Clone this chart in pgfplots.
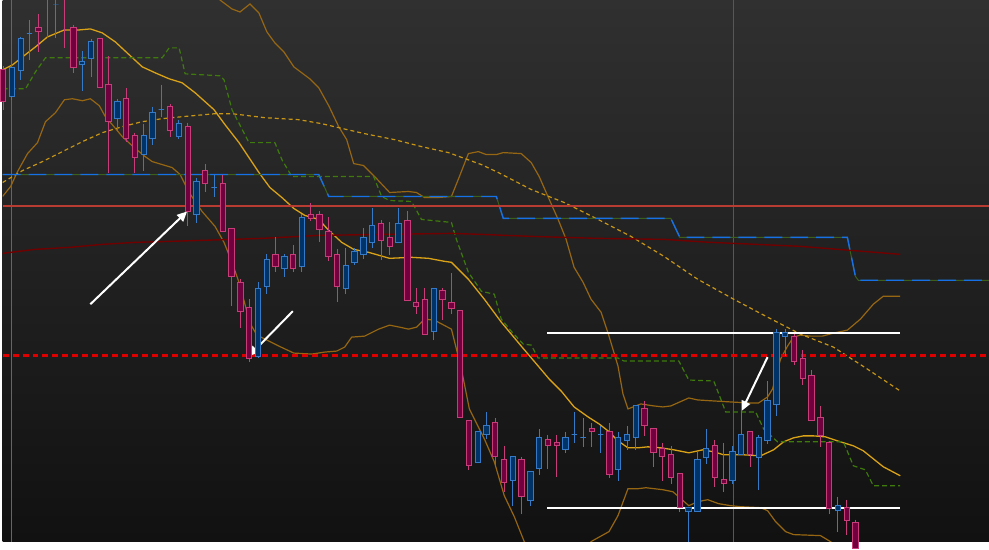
\documentclass[border=0pt]{standalone}
\usepackage{pgfplots}
\pgfplotsset{compat=1.18}
\usepackage{pgfplotstable}
\usetikzlibrary{arrows.meta}

\definecolor{bgtop}{RGB}{48,48,48}
\definecolor{bgbot}{RGB}{17,17,17}
\definecolor{upfill}{RGB}{0,52,105}
\definecolor{upedge}{RGB}{52,122,200}
\definecolor{dnfill}{RGB}{112,0,62}
\definecolor{dnedge}{RGB}{200,60,122}
\definecolor{bband}{RGB}{150,102,18}
\definecolor{mband}{RGB}{218,162,22}
\definecolor{slowma}{RGB}{200,150,20}
\definecolor{stepgreen}{RGB}{62,122,12}
\definecolor{stepblue}{RGB}{22,112,232}
\definecolor{stepunder}{RGB}{60,95,25}
\definecolor{darkred}{RGB}{112,0,0}
\definecolor{redline}{RGB}{185,60,50}
\definecolor{reddash}{RGB}{222,0,0}
\definecolor{vgold}{RGB}{120,85,10}
\definecolor{vpink}{RGB}{135,85,92}

\def\bodyh{0}
\pgfdeclareplotmark{candleU}{%
  \pgfsetlinewidth{1bp}%
  \pgfsetstrokecolor{upedge}\pgfsetfillcolor{upfill}%
  \pgfmathsetmacro\negh{-1*\bodyh}%
  \pgfpathrectangle{\pgfpoint{-2.7bp}{0bp}}{\pgfpoint{5.4bp}{\negh bp}}%
  \pgfusepath{fill,stroke}}
\pgfdeclareplotmark{candleD}{%
  \pgfsetlinewidth{1bp}%
  \pgfsetstrokecolor{dnedge}\pgfsetfillcolor{dnfill}%
  \pgfmathsetmacro\negh{-1*\bodyh}%
  \pgfpathrectangle{\pgfpoint{-2.7bp}{0bp}}{\pgfpoint{5.4bp}{\negh bp}}%
  \pgfusepath{fill,stroke}}

% columns: i = candle index, t = body top (y), d = body height, h = high, l = low
\pgfplotstableread{
i t d h l
1 68 29 64 100
2 39 32 37 80
3 34 0 20 60
5 -3 31 -8 38
6 5 0 -5 38
9 62 3 51 91
10 42 17 39 77
13 102 17 99 131
16 136 19 124 171
17 113 26 107 145
18 110 0 85 117
20 124 13 120 139
22 182 33 178 224
24 188 0 175 198
29 289 68 283 359
30 260 27 255 295
32 257 12 255 278
34 218 49 215 273
39 266 23 249 295
40 252 11 249 266
41 238 17 229 260
42 226 17 209 249
45 224 19 209 243
49 289 43 289 341
54 433 31 433 464
55 427 9 413 440
58 458 24 458 507
60 473 29 473 507
61 439 31 430 476
64 439 12 433 454
65 436 0 413 444
66 439 0 419 448
68 436 0 427 454
70 439 32 433 482
71 436 6 427 451
72 407 32 407 451
78 509 4 509 550
79 461 52 453 513
80 450 9 430 465
83 453 29 447 485
84 436 20 412 456
86 439 20 436 491
87 402 40 382 445
88 333 73 330 417
89 333 4 330 357
95 507 5 498 533
}\upc

\pgfplotstableread{
i t d h l
0 70 32 66 110
4 28 4 14 52
7 -3 28 -6 48
8 28 40 25 73
11 39 49 39 88
12 85 37 56 173
14 99 40 88 142
15 136 22 133 173
19 107 24 104 137
21 127 85 123 227
23 171 13 164 193
25 184 48 175 232
26 229 48 229 307
27 283 29 280 329
28 308 51 300 363
31 255 12 238 273
33 255 14 246 273
35 215 4 204 222
36 215 15 212 243
37 232 25 218 262
38 255 32 250 303
43 224 17 221 261
44 238 9 223 256
46 221 80 212 301
47 303 4 289 315
48 300 35 289 335
50 291 9 289 321
51 303 6 274 315
52 311 108 311 419
53 422 45 422 471
56 424 34 419 468
57 461 23 447 493
59 461 37 458 515
62 441 6 436 470
63 444 3 436 478
67 430 3 424 448
69 433 43 424 479
73 410 17 402 437
74 430 24 430 468
75 450 8 444 482
76 456 23 447 485
77 475 34 475 513
81 447 32 441 488
82 481 4 444 493
85 433 23 433 468
90 337 25 335 366
91 359 20 351 386
92 376 46 371 422
93 419 18 407 448
94 444 66 442 515
96 509 13 501 536
97 524 26 521 550
}\dnc

\begin{document}
\begin{tikzpicture}
\begin{axis}[
  scale only axis, width=989bp, height=543bp,
  xmin=0, xmax=989, ymin=0, ymax=543, y dir=reverse,
  axis line style={draw=none}, xtick=\empty, ytick=\empty,
  axis background/.style={top color=bgtop, bottom color=bgbot},
]
% vertical markers
\addplot[forget plot, vpink, line width=1bp] coordinates {(9,0) (9,543)};
\addplot[forget plot, vgold, line width=1bp] coordinates {(733,0) (733,543)};

% upper band
\addplot[forget plot, bband, line width=1.2bp] coordinates {
(205,-20) (218,0) (230,9) (238,12) (248,4) (257,13) (265,32) (273,43) (282,52) (292,67) (308,79) (317,88) (327,106) (337,127) (345,140) (352,164) (362,166) (373,177) (388,193) (407,192) (415,193) (423,198) (437,198) (450,197) (458,177) (467,154) (477,152) (485,155) (495,155) (502,153) (520,154) (530,163) (538,177) (545,193) (557,220) (565,240) (573,268) (582,283) (590,300) (600,313) (608,337) (617,367) (622,395) (627,410) (640,405) (653,407) (662,408) (670,407) (688,399) (697,401) (713,402) (730,403) (748,404) (758,404) (767,398) (772,390) (780,360) (787,347) (793,338) (800,336) (810,337) (822,337) (833,334) (847,331) (860,320) (873,305) (883,297) (900,297)};
% lower band
\addplot[forget plot, bband, line width=1.2bp] coordinates {
(0,197) (8,187) (15,172) (20,163) (25,154) (35,143) (43,122) (53,113) (62,100) (70,99) (80,101) (88,99) (97,106) (103,117) (110,125) (120,137) (132,148) (143,157) (150,162) (170,168) (178,175) (187,193) (200,212) (213,227) (222,243) (230,263) (237,283) (243,305) (248,324) (255,336) (263,340) (277,347) (292,354) (310,355) (323,353) (335,352) (343,348) (350,338) (363,337) (377,330) (388,326) (398,328) (407,330) (415,328) (423,320) (433,321) (450,330) (460,370) (468,410) (483,440) (493,463) (503,497) (513,518) (523,543) (535,565) (560,575) (580,560) (590,543) (608,533) (617,517) (627,490) (637,490) (645,489) (662,491) (672,493) (680,500) (688,507) (697,503) (707,501) (718,505) (730,507) (740,508) (760,509) (767,512) (775,523) (785,533) (793,536) (820,537) (830,543) (845,555)};
% middle band
\addplot[forget plot, mband, line width=1.3bp] coordinates {
(0,70) (10,65) (20,57) (33,47) (45,37) (62,30) (77,30) (88,29) (100,33) (113,42) (127,55) (140,67) (153,73) (167,79) (180,83) (193,93) (212,110) (223,125) (237,143) (247,158) (257,173) (268,188) (280,198) (292,209) (303,216) (317,220) (327,231) (340,243) (352,250) (367,253) (388,259) (410,258) (427,259) (443,262) (450,263) (467,280) (483,300) (500,323) (520,347) (537,367) (548,380) (560,392) (573,408) (587,418) (598,425) (607,432) (617,442) (627,449) (637,449) (647,448) (660,449) (673,451) (688,454) (702,451) (713,453) (723,456) (743,456) (760,457) (773,451) (783,443) (793,439) (803,437) (813,437) (825,438) (837,442) (853,447) (863,452) (873,460) (883,468) (900,477)};
% slow moving average (dashed)
\addplot[forget plot, slowma, line width=1.2bp, dash pattern=on 4bp off 3bp] coordinates {
(0,183) (20,171) (40,162) (60,152) (80,142) (100,133) (120,127) (140,122) (160,119) (180,117) (213,114) (230,114) (263,118) (297,120) (320,124) (337,128) (363,134) (393,140) (420,147) (447,153) (480,165) (497,173) (530,190) (563,203) (597,220) (630,237) (663,257) (697,280) (733,300) (767,318) (800,335) (833,348) (867,370) (900,392)};
% green dashed step
\addplot[forget plot, stepgreen, line width=1.2bp, dash pattern=on 5bp off 3bp] coordinates {
(0,89) (23,89) (33,72) (43,58) (160,58) (167,48) (177,48) (183,74) (218,76) (222,80) (230,110) (247,143) (273,143) (280,160) (290,177) (372,177) (380,197) (388,201) (410,202) (420,220) (450,223) (455,240) (467,273) (480,292) (493,295) (500,320) (510,332) (522,345) (530,346) (537,359) (617,359) (623,362) (678,362) (688,381) (713,382) (720,400) (725,413) (755,413) (763,430) (777,443) (843,443) (853,467) (865,471) (873,487) (900,487)};
% blue step line
\addplot[forget plot, stepunder, line width=1bp] coordinates {
(0,175) (317,175) (327,197) (495,197) (502,219) (670,219) (679,238) (847,238) (855,277) (858,281) (989,281)};
\addplot[forget plot, stepblue, line width=1.4bp, dash pattern=on 18bp off 8bp] coordinates {
(0,175) (317,175) (327,197) (495,197) (502,219) (670,219) (679,238) (847,238) (855,277) (858,281) (989,281)};
% dark red line
\addplot[forget plot, darkred, line width=1.4bp] coordinates {
(0,254) (33,250) (67,248) (100,245) (133,243) (167,242) (200,241) (260,239) (317,236) (383,235) (450,234) (480,235) (530,237) (597,239) (663,240) (710,243) (733,244) (800,247) (850,251) (900,255)};
% horizontal levels
\addplot[forget plot, redline, line width=1.1bp] coordinates {(0,206.5) (989,206.5)};
\addplot[forget plot, reddash, line width=2.2bp, dash pattern=on 6bp off 4bp] coordinates {(0,356.5) (989,356.5)};

% wicks
\addplot[forget plot, only marks, mark=*, mark options={opacity=0},
  error bars/.cd, y dir=plus, y explicit, error mark=none,
  error bar style={line width=1bp, color=upedge, opacity=1}]
  table[x expr={0.6+8.81*\thisrow{i}}, y=h, y error expr={\thisrow{l}-\thisrow{h}}] {\upc};
\addplot[forget plot, only marks, mark=*, mark options={opacity=0},
  error bars/.cd, y dir=plus, y explicit, error mark=none,
  error bar style={line width=1bp, color=dnedge, opacity=1}]
  table[x expr={0.6+8.81*\thisrow{i}}, y=h, y error expr={\thisrow{l}-\thisrow{h}}] {\dnc};
% bodies
\addplot[forget plot, scatter, only marks, mark=candleU,
  scatter/@pre marker code/.code={\pgfscope},
  scatter/@post marker code/.code={\endpgfscope},
  visualization depends on={\thisrow{d} \as \bodyh}]
  table[x expr={0.6+8.81*\thisrow{i}}, y=t] {\upc};
\addplot[forget plot, scatter, only marks, mark=candleD,
  scatter/@pre marker code/.code={\pgfscope},
  scatter/@post marker code/.code={\endpgfscope},
  visualization depends on={\thisrow{d} \as \bodyh}]
  table[x expr={0.6+8.81*\thisrow{i}}, y=t] {\dnc};

% white range lines
\addplot[forget plot, white, line width=1.4bp] coordinates {(546,334) (900,334)};
\addplot[forget plot, white, line width=1.4bp] coordinates {(546,509.5) (900,509.5)};
% arrows
\addplot[forget plot, white, line width=2bp, -{Triangle[length=10bp,width=9bp]}] coordinates {(88,305) (185,212)};
\addplot[forget plot, white, line width=2bp, -{Triangle[length=10bp,width=9bp]}] coordinates {(291,312) (247,357)};
\addplot[forget plot, white, line width=2bp, -{Triangle[length=10bp,width=9bp]}] coordinates {(767,358) (741,412)};
\end{axis}
\end{tikzpicture}
\end{document}
